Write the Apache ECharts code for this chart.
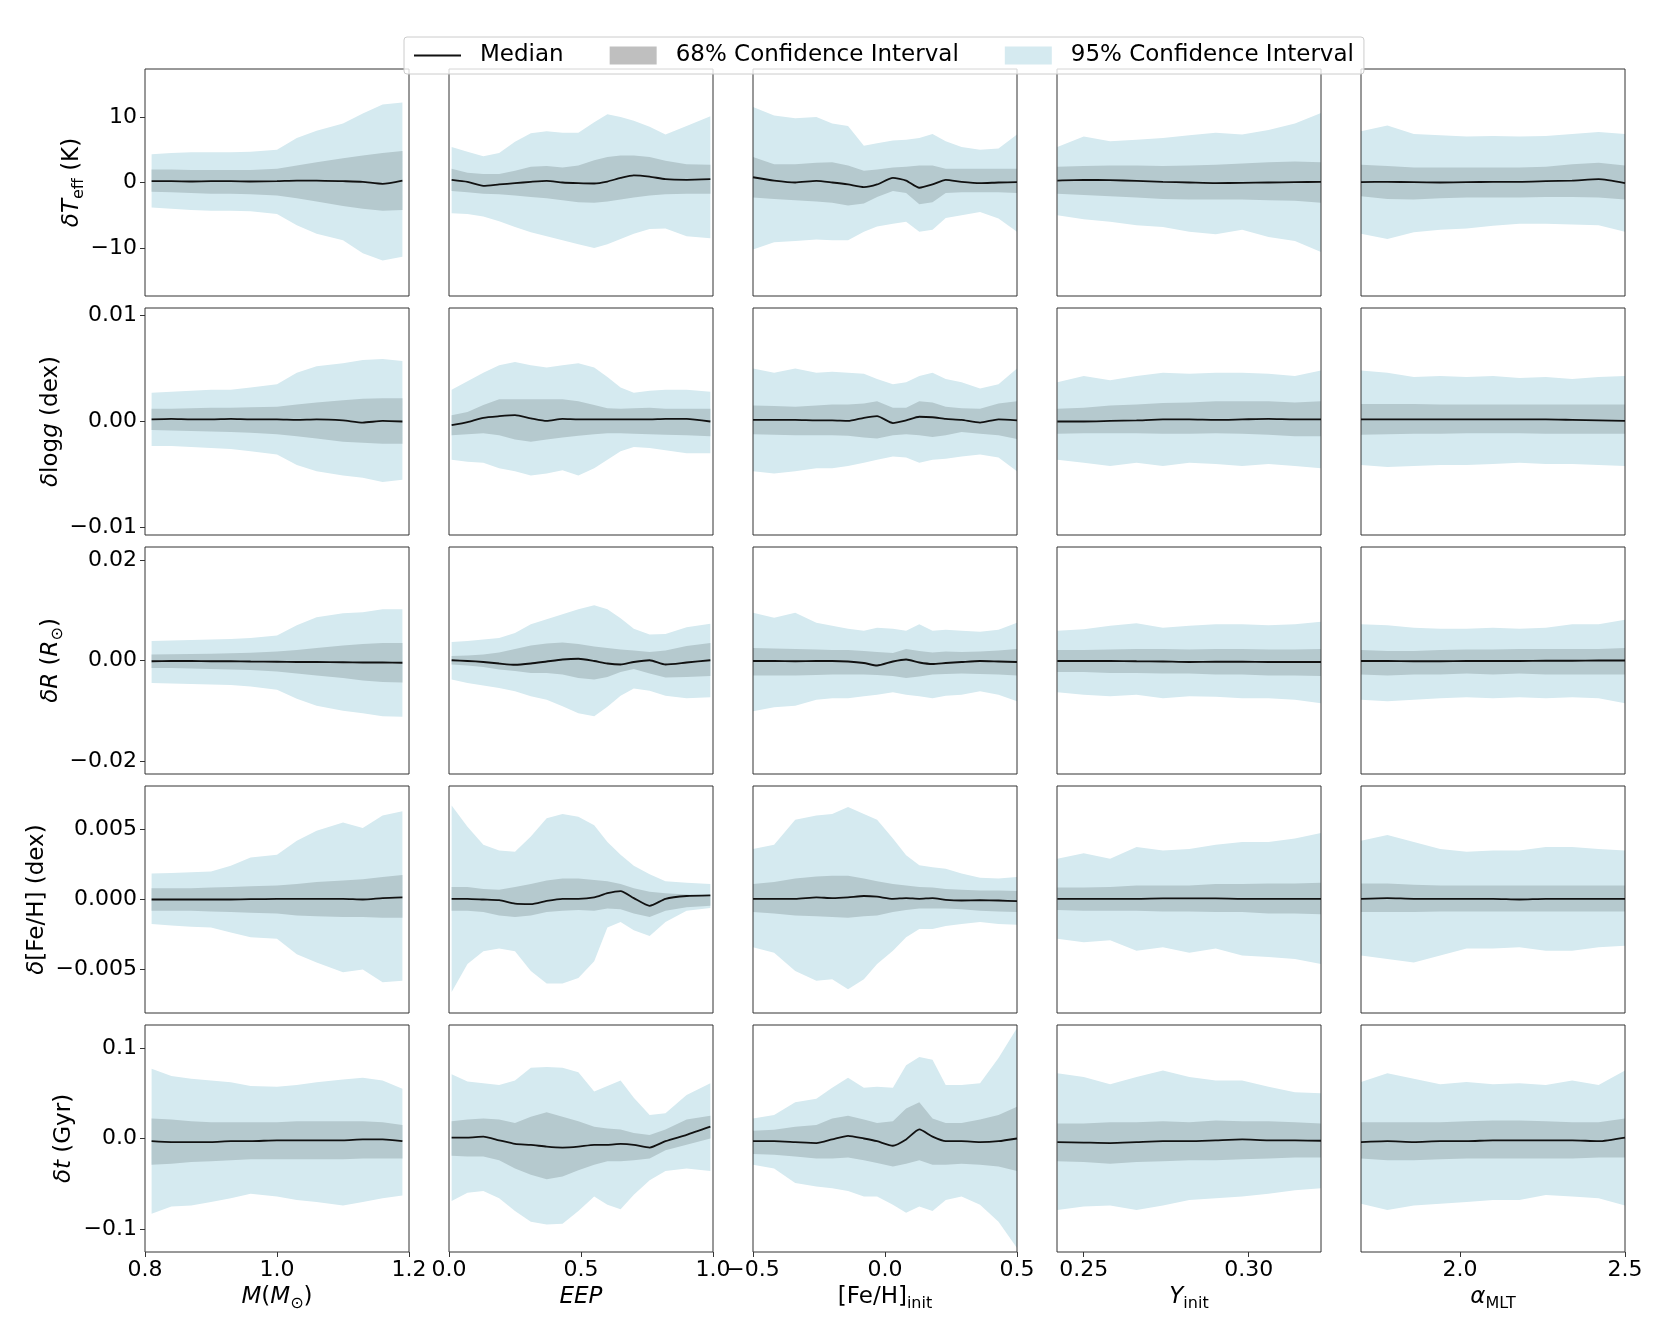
<!doctype html>
<html>
<head>
<meta charset="UTF-8">
<title>Residuals vs input parameters</title>
<script src="https://cdn.jsdelivr.net/npm/echarts@6/dist/echarts.min.js"></script>
<style>
  html, body { margin: 0; padding: 0; background: #fff; }
  #main { width: 1661px; height: 1329px; }
</style>
</head>
<body>
<div id="main"></div>
<script>
// ---- x sample positions per column ----
var xM   = [0.81, 0.84, 0.87, 0.90, 0.93, 0.96, 1.00, 1.03, 1.06, 1.10, 1.13, 1.16, 1.19];
var xEEP = [0.01, 0.07, 0.13, 0.19, 0.25, 0.31, 0.37, 0.43, 0.49, 0.55, 0.60, 0.65, 0.70, 0.76, 0.82, 0.90, 0.99];
var xFeH = [-0.5, -0.42, -0.34, -0.26, -0.2, -0.14, -0.08, -0.03, 0.03, 0.08, 0.13, 0.18, 0.23, 0.29, 0.36, 0.43, 0.5];
var xY   = [0.2420, 0.2500, 0.2580, 0.2660, 0.2740, 0.2820, 0.2900, 0.2980, 0.3060, 0.3140, 0.3219];
var xA   = [1.70, 1.78, 1.86, 1.94, 2.02, 2.10, 2.18, 2.26, 2.34, 2.42, 2.50];

// ---- row 1: delta Teff (K) ----
var tM_med = [0.2, 0.2, 0.15, 0.2, 0.2, 0.15, 0.2, 0.3, 0.3, 0.2, 0.1, -0.2, 0.3];
var tM_l68 = [-1.4, -1.5, -1.6, -1.7, -1.7, -1.8, -2.0, -2.4, -2.9, -3.6, -4.0, -4.3, -4.2];
var tM_u68 = [2.0, 2.0, 1.9, 1.9, 1.9, 1.9, 2.1, 2.6, 3.1, 3.7, 4.1, 4.5, 4.8];
var tM_l95 = [-3.8, -4.0, -4.2, -4.3, -4.3, -4.4, -4.8, -6.5, -7.8, -8.8, -10.8, -11.9, -11.3];
var tM_u95 = [4.3, 4.5, 4.6, 4.6, 4.6, 4.7, 5.0, 6.8, 7.9, 9.0, 10.5, 11.9, 12.2];

var tE_med = [0.4, 0.1, -0.5, -0.3, -0.1, 0.1, 0.25, 0.0, -0.1, -0.15, 0.15, 0.7, 1.1, 0.9, 0.5, 0.4, 0.5];
var tE_l68 = [-1.3, -1.5, -1.7, -1.8, -2.0, -2.2, -2.4, -2.7, -3.0, -3.1, -2.9, -2.6, -2.3, -2.0, -1.8, -1.7, -1.7];
var tE_u68 = [2.1, 1.5, 1.3, 1.3, 1.8, 2.4, 2.5, 2.3, 2.6, 3.4, 3.9, 4.1, 4.1, 3.9, 3.3, 2.8, 2.7];
var tE_l95 = [-4.7, -4.8, -5.2, -5.9, -6.8, -7.6, -8.2, -8.8, -9.4, -10.0, -9.4, -8.6, -7.8, -7.1, -7.0, -8.2, -8.5];
var tE_u95 = [5.4, 4.7, 4.0, 4.5, 6.2, 7.5, 7.8, 7.6, 7.6, 9.2, 10.4, 10.0, 9.4, 8.5, 7.3, 8.6, 10.1];

var tF_med = [0.8, 0.3, 0.0, 0.25, 0.0, -0.3, -0.7, -0.3, 0.7, 0.3, -0.8, -0.3, 0.4, 0.1, -0.1, 0.0, 0.05];
var tF_l68 = [-2.3, -2.5, -2.7, -2.9, -3.1, -3.5, -3.2, -2.2, -1.3, -1.6, -3.3, -3.0, -1.6, -1.5, -1.5, -1.5, -1.6];
var tF_u68 = [3.9, 2.8, 2.8, 3.0, 3.1, 2.6, 1.8, 2.0, 2.3, 2.4, 2.6, 2.6, 2.1, 2.1, 2.1, 2.1, 2.1];
var tF_l95 = [-10.2, -9.1, -8.9, -8.7, -8.8, -8.8, -7.5, -6.7, -6.3, -6.0, -7.5, -7.2, -5.4, -5.0, -4.5, -5.5, -7.5];
var tF_u95 = [11.5, 10.2, 9.8, 10.0, 9.0, 8.6, 5.6, 6.0, 6.4, 6.5, 6.8, 7.4, 6.3, 5.4, 5.0, 5.2, 7.3];

var tY_med = [0.3, 0.4, 0.35, 0.25, 0.1, 0.0, -0.1, -0.05, 0.0, 0.05, 0.1];
var tY_l68 = [-1.7, -1.9, -2.1, -2.3, -2.5, -2.6, -2.6, -2.6, -2.7, -2.8, -3.1];
var tY_u68 = [2.4, 2.5, 2.6, 2.6, 2.5, 2.6, 2.7, 2.9, 3.1, 3.2, 3.1];
var tY_l95 = [-5.0, -5.6, -6.0, -6.5, -6.8, -7.5, -7.9, -7.2, -8.3, -8.9, -10.6];
var tY_u95 = [5.4, 7.0, 6.3, 6.5, 6.8, 7.2, 7.6, 7.3, 8.0, 9.0, 10.6];

var tA_med = [0.05, 0.1, 0.05, 0.0, 0.05, 0.1, 0.1, 0.2, 0.3, 0.5, -0.1];
var tA_l68 = [-2.1, -2.5, -2.6, -2.4, -2.3, -2.3, -2.3, -2.2, -2.2, -2.3, -2.6];
var tA_u68 = [2.7, 2.5, 2.3, 2.3, 2.3, 2.3, 2.3, 2.4, 2.8, 3.0, 2.6];
var tA_l95 = [-7.8, -8.6, -7.6, -7.2, -7.0, -6.6, -6.3, -6.3, -6.4, -6.5, -7.5];
var tA_u95 = [7.8, 8.7, 7.4, 7.2, 7.0, 7.1, 7.0, 7.1, 7.4, 7.7, 7.4];

// ---- row 2: delta log g (dex) ----
var gM_med = [0.0002, 0.00025, 0.0002, 0.0002, 0.00025, 0.0002, 0.0002, 0.00015, 0.0002, 0.0001, -0.0001, 0.00005, 0.0];
var gM_l68 = [-0.0008, -0.00085, -0.0009, -0.00095, -0.0010, -0.00105, -0.0012, -0.0014, -0.0016, -0.0019, -0.0020, -0.0021, -0.0021];
var gM_u68 = [0.0012, 0.0012, 0.00125, 0.0013, 0.0013, 0.00135, 0.0014, 0.0016, 0.0018, 0.0020, 0.00215, 0.0022, 0.0022];
var gM_l95 = [-0.0023, -0.0023, -0.0024, -0.0025, -0.0026, -0.0028, -0.0031, -0.0041, -0.0047, -0.0051, -0.0053, -0.0057, -0.0055];
var gM_u95 = [0.0027, 0.0028, 0.0029, 0.0030, 0.0030, 0.0032, 0.0035, 0.0046, 0.0052, 0.0055, 0.0058, 0.0059, 0.0057];

var gE_med = [-0.00035, -0.00005, 0.00035, 0.0005, 0.0006, 0.0003, 0.00005, 0.00025, 0.0002, 0.0002, 0.0002, 0.0002, 0.0002, 0.0002, 0.00025, 0.00025, 0.0];
var gE_l68 = [-0.0013, -0.0012, -0.0011, -0.0013, -0.0017, -0.0019, -0.0017, -0.0015, -0.00135, -0.0012, -0.0011, -0.0011, -0.00115, -0.0012, -0.00125, -0.0013, -0.0014];
var gE_u68 = [0.0006, 0.0009, 0.00155, 0.0021, 0.0021, 0.0021, 0.0021, 0.0021, 0.0019, 0.00155, 0.00125, 0.0012, 0.00125, 0.0013, 0.0012, 0.0012, 0.0012];
var gE_l95 = [-0.0036, -0.0038, -0.0039, -0.0044, -0.0047, -0.0051, -0.0049, -0.0046, -0.0051, -0.0044, -0.0036, -0.0028, -0.0024, -0.0025, -0.0027, -0.0030, -0.0030];
var gE_u95 = [0.0030, 0.0038, 0.0046, 0.0053, 0.0056, 0.0053, 0.0051, 0.0053, 0.0055, 0.0051, 0.0042, 0.0032, 0.0027, 0.0029, 0.0030, 0.0030, 0.0028];

var gF_med = [0.00015, 0.00015, 0.00015, 0.0001, 0.0001, 0.00005, 0.00035, 0.0005, -0.00015, 0.0001, 0.00045, 0.0004, 0.00025, 0.00015, -0.0001, 0.0002, 0.0001];
var gF_l68 = [-0.0012, -0.00125, -0.0013, -0.0013, -0.0013, -0.00135, -0.0015, -0.0016, -0.0013, -0.0012, -0.0013, -0.00145, -0.0013, -0.0010, -0.00115, -0.0013, -0.00165];
var gF_u68 = [0.0015, 0.00145, 0.0014, 0.0015, 0.0016, 0.0016, 0.0017, 0.0019, 0.0013, 0.0013, 0.0019, 0.0018, 0.0014, 0.00125, 0.0012, 0.0017, 0.0019];
var gF_l95 = [-0.0047, -0.0049, -0.0047, -0.0044, -0.0044, -0.0042, -0.0039, -0.0036, -0.0033, -0.0034, -0.0039, -0.0036, -0.0035, -0.0033, -0.0031, -0.0034, -0.0047];
var gF_u95 = [0.0050, 0.0046, 0.0050, 0.0046, 0.0047, 0.0046, 0.0045, 0.0040, 0.0035, 0.0037, 0.0043, 0.0046, 0.0040, 0.0037, 0.0031, 0.0035, 0.0050];

var gY_med = [0.0, 0.0, 0.00005, 0.0001, 0.0002, 0.0002, 0.00015, 0.0002, 0.00025, 0.0002, 0.0002];
var gY_l68 = [-0.00115, -0.0011, -0.0011, -0.0011, -0.00115, -0.00115, -0.0011, -0.00115, -0.00125, -0.0014, -0.0014];
var gY_u68 = [0.0012, 0.0013, 0.0015, 0.0016, 0.00175, 0.0018, 0.0019, 0.0019, 0.0019, 0.0018, 0.0019];
var gY_l95 = [-0.0036, -0.0039, -0.0042, -0.0039, -0.0042, -0.0039, -0.0040, -0.0042, -0.0040, -0.0042, -0.0044];
var gY_u95 = [0.0037, 0.0043, 0.0039, 0.0043, 0.0046, 0.0045, 0.0046, 0.0046, 0.0045, 0.0043, 0.0048];

var gA_med = [0.0002, 0.0002, 0.0002, 0.0002, 0.0002, 0.0002, 0.0002, 0.0002, 0.00015, 0.0001, 0.00005];
var gA_l68 = [-0.00125, -0.0012, -0.00115, -0.00115, -0.0011, -0.0011, -0.0011, -0.00115, -0.00115, -0.00115, -0.00115];
var gA_u68 = [0.00165, 0.00165, 0.00165, 0.0016, 0.0016, 0.0016, 0.0016, 0.0016, 0.0016, 0.0016, 0.0016];
var gA_l95 = [-0.0041, -0.0043, -0.0042, -0.0041, -0.0041, -0.0040, -0.0039, -0.0040, -0.0040, -0.0041, -0.0042];
var gA_u95 = [0.0048, 0.0046, 0.0042, 0.0043, 0.0042, 0.0043, 0.0041, 0.0042, 0.0040, 0.0042, 0.0043];

// ---- row 3: delta R (Rsun) ----
var rM_med = [-0.00015, -0.0001, -0.0001, -0.00015, -0.00015, -0.0002, -0.00025, -0.0003, -0.0003, -0.00035, -0.0004, -0.0004, -0.00045];
var rM_l68 = [-0.0015, -0.0015, -0.0016, -0.0017, -0.0018, -0.0019, -0.0022, -0.0026, -0.0030, -0.0035, -0.0040, -0.0043, -0.0044];
var rM_u68 = [0.0012, 0.00125, 0.0013, 0.00135, 0.00145, 0.00155, 0.0018, 0.0021, 0.0025, 0.0030, 0.0033, 0.0035, 0.0035];
var rM_l95 = [-0.0045, -0.0046, -0.0047, -0.0048, -0.0049, -0.0052, -0.0058, -0.0076, -0.0090, -0.0100, -0.0105, -0.0111, -0.0112];
var rM_u95 = [0.0039, 0.0040, 0.0041, 0.0042, 0.0043, 0.0045, 0.0050, 0.0070, 0.0086, 0.0094, 0.0096, 0.0102, 0.0102];

var rE_med = [0.00005, -0.0001, -0.0003, -0.0006, -0.00085, -0.0006, -0.0002, 0.0002, 0.00035, -0.0001, -0.0006, -0.0008, -0.0003, 0.00005, -0.0008, -0.0004, 0.00005];
var rE_l68 = [-0.0008, -0.0010, -0.0013, -0.0018, -0.0021, -0.0025, -0.0025, -0.0028, -0.0035, -0.0038, -0.0033, -0.0023, -0.0017, -0.0026, -0.0034, -0.0033, -0.0031];
var rE_u68 = [0.0009, 0.0010, 0.0012, 0.0016, 0.0023, 0.0030, 0.0034, 0.0036, 0.0033, 0.0028, 0.0025, 0.0022, 0.0020, 0.0017, 0.0020, 0.0029, 0.0035];
var rE_l95 = [-0.0038, -0.0045, -0.0050, -0.0055, -0.0061, -0.0071, -0.0078, -0.0091, -0.0105, -0.0111, -0.0092, -0.0070, -0.0056, -0.0060, -0.0070, -0.0075, -0.0073];
var rE_u95 = [0.0037, 0.0039, 0.0042, 0.0045, 0.0055, 0.0072, 0.0082, 0.0092, 0.0102, 0.0110, 0.0102, 0.0084, 0.0063, 0.0052, 0.0053, 0.0066, 0.0073];

var rF_med = [-0.0001, -0.0001, -0.00015, -0.0001, -0.0001, -0.0002, -0.0005, -0.0010, -0.0002, 0.0002, -0.0004, -0.0007, -0.0005, -0.0003, -0.0001, -0.0002, -0.0003];
var rF_l68 = [-0.0030, -0.0030, -0.0030, -0.0029, -0.0028, -0.0028, -0.0028, -0.0029, -0.0031, -0.0035, -0.0032, -0.0028, -0.0027, -0.0026, -0.0027, -0.0028, -0.0030];
var rF_u68 = [0.0025, 0.0024, 0.0023, 0.0022, 0.0021, 0.0021, 0.0019, 0.0017, 0.0015, 0.0023, 0.0019, 0.0016, 0.0018, 0.0017, 0.0018, 0.0020, 0.0023];
var rF_l95 = [-0.0101, -0.0093, -0.0090, -0.0078, -0.0075, -0.0075, -0.0071, -0.0068, -0.0063, -0.0068, -0.0071, -0.0075, -0.0070, -0.0068, -0.0061, -0.0068, -0.0081];
var rF_u95 = [0.0095, 0.0085, 0.0095, 0.0075, 0.0069, 0.0063, 0.0059, 0.0065, 0.0063, 0.0059, 0.0072, 0.0059, 0.0061, 0.0059, 0.0057, 0.0061, 0.0075];

var rY_med = [-0.0001, -0.0001, -0.0001, -0.00015, -0.0002, -0.0003, -0.00025, -0.00025, -0.0003, -0.0003, -0.0003];
var rY_l68 = [-0.0023, -0.0023, -0.0025, -0.0025, -0.0026, -0.0026, -0.0028, -0.0028, -0.0030, -0.0030, -0.0031];
var rY_u68 = [0.0021, 0.0021, 0.0022, 0.0023, 0.0023, 0.0022, 0.0023, 0.0023, 0.0022, 0.0022, 0.0023];
var rY_l95 = [-0.0063, -0.0068, -0.0071, -0.0068, -0.0075, -0.0071, -0.0072, -0.0075, -0.0075, -0.0078, -0.0085];
var rY_u95 = [0.0059, 0.0062, 0.0069, 0.0074, 0.0065, 0.0069, 0.0072, 0.0072, 0.0070, 0.0072, 0.0077];

var rA_med = [-0.0001, -0.0001, -0.00015, -0.00015, -0.0001, -0.0001, -0.0001, -0.00005, -0.00005, 0.0, 0.0];
var rA_l68 = [-0.0028, -0.0030, -0.0028, -0.0028, -0.0026, -0.0028, -0.0026, -0.0028, -0.0028, -0.0028, -0.0028];
var rA_u68 = [0.0021, 0.0019, 0.0019, 0.0021, 0.0022, 0.0022, 0.0023, 0.0023, 0.0023, 0.0023, 0.0025];
var rA_l95 = [-0.0078, -0.0081, -0.0078, -0.0075, -0.0073, -0.0075, -0.0073, -0.0075, -0.0073, -0.0075, -0.0085];
var rA_u95 = [0.0072, 0.0070, 0.0065, 0.0063, 0.0063, 0.0065, 0.0063, 0.0065, 0.0072, 0.0072, 0.0081];

// ---- row 4: delta [Fe/H] (dex) ----
var fM_med = [0.0, 0.0, 0.0, 0.0, 0.0, 0.00002, 0.00005, 0.00005, 0.00005, 0.00005, 0.0, 0.0001, 0.00015];
var fM_l68 = [-0.0008, -0.0008, -0.0008, -0.00085, -0.0009, -0.00095, -0.0010, -0.00115, -0.0012, -0.00125, -0.00125, -0.0013, -0.0013];
var fM_u68 = [0.0008, 0.0008, 0.0008, 0.00085, 0.0009, 0.00095, 0.0010, 0.0011, 0.00125, 0.00135, 0.00145, 0.0016, 0.00175];
var fM_l95 = [-0.00175, -0.00185, -0.00195, -0.0020, -0.00235, -0.0027, -0.0028, -0.0039, -0.0045, -0.0052, -0.0050, -0.0059, -0.0058];
var fM_u95 = [0.00185, 0.0019, 0.00195, 0.0020, 0.0024, 0.0030, 0.0032, 0.0042, 0.0049, 0.0055, 0.0051, 0.0060, 0.0063];

var fE_med = [0.00005, 0.00005, 0.0, -0.00005, -0.0003, -0.00033, -0.0001, 0.00005, 0.00005, 0.00015, 0.00045, 0.0006, 0.0001, -0.00045, 0.00005, 0.00025, 0.0003];
var fE_l68 = [-0.0008, -0.0008, -0.0009, -0.00115, -0.00125, -0.00115, -0.0009, -0.0008, -0.00075, -0.0008, -0.00065, -0.0007, -0.0010, -0.00125, -0.0008, -0.00055, -0.00045];
var fE_u68 = [0.0009, 0.0009, 0.00075, 0.0007, 0.0009, 0.0011, 0.00135, 0.0015, 0.0015, 0.0014, 0.0013, 0.0011, 0.0008, 0.00055, 0.00045, 0.00035, 0.0003];
var fE_l95 = [-0.0066, -0.0046, -0.0037, -0.0035, -0.0037, -0.0051, -0.0060, -0.0060, -0.0056, -0.0044, -0.0020, -0.0016, -0.0022, -0.0026, -0.0016, -0.0008, -0.0006];
var fE_u95 = [0.0067, 0.0052, 0.0039, 0.0035, 0.0034, 0.0045, 0.0058, 0.0061, 0.0059, 0.0053, 0.0041, 0.0032, 0.0024, 0.0018, 0.0013, 0.0012, 0.0011];

var fF_med = [0.00005, 0.00005, 0.00005, 0.00015, 0.0001, 0.00015, 0.00025, 0.0002, 0.00005, 0.0001, 0.00005, 0.0001, -0.00002, -0.00007, -0.00005, -0.00007, -0.00012];
var fF_l68 = [-0.0009, -0.0010, -0.00115, -0.0012, -0.00125, -0.0013, -0.0012, -0.00115, -0.0009, -0.00075, -0.00065, -0.00065, -0.00065, -0.0007, -0.0008, -0.00085, -0.0009];
var fF_u68 = [0.0011, 0.00125, 0.0015, 0.00165, 0.0017, 0.0017, 0.0015, 0.0013, 0.0011, 0.0010, 0.0009, 0.00085, 0.00075, 0.0007, 0.00065, 0.00065, 0.0006];
var fF_l95 = [-0.0034, -0.0038, -0.0051, -0.0058, -0.0057, -0.0064, -0.0057, -0.0046, -0.00365, -0.0027, -0.0021, -0.0021, -0.0019, -0.00175, -0.0016, -0.00175, -0.0018];
var fF_u95 = [0.0036, 0.0039, 0.0057, 0.0060, 0.0061, 0.0066, 0.0061, 0.0057, 0.00435, 0.00315, 0.00245, 0.0023, 0.0022, 0.00185, 0.00155, 0.0015, 0.0016];

var fY_med = [0.00005, 0.00005, 0.00005, 0.00005, 0.00008, 0.00008, 0.00008, 0.00005, 0.00005, 0.00005, 0.00005];
var fY_l68 = [-0.00075, -0.0008, -0.0008, -0.0008, -0.00085, -0.00085, -0.0009, -0.0009, -0.0010, -0.0010, -0.00105];
var fY_u68 = [0.00085, 0.00085, 0.0009, 0.0010, 0.0010, 0.0010, 0.0011, 0.0011, 0.00115, 0.00115, 0.0012];
var fY_l95 = [-0.0028, -0.00305, -0.0029, -0.00365, -0.0034, -0.0038, -0.0035, -0.0040, -0.0041, -0.00425, -0.0046];
var fY_u95 = [0.0029, 0.0033, 0.0029, 0.00375, 0.0035, 0.0036, 0.0039, 0.0041, 0.0041, 0.00435, 0.00475];

var fA_med = [0.00005, 0.0001, 0.00005, 0.00005, 0.00005, 0.00005, 0.0, 0.00005, 0.00005, 0.00005, 0.00005];
var fA_l68 = [-0.0009, -0.0009, -0.0009, -0.00085, -0.00085, -0.00085, -0.00085, -0.00085, -0.00085, -0.00085, -0.00085];
var fA_u68 = [0.00115, 0.00115, 0.00105, 0.0010, 0.0010, 0.0010, 0.0010, 0.0010, 0.0010, 0.0010, 0.0010];
var fA_l95 = [-0.0040, -0.00425, -0.0045, -0.0040, -0.0035, -0.0035, -0.0034, -0.00365, -0.00365, -0.0034, -0.0033];
var fA_u95 = [0.0042, 0.0046, 0.0041, 0.0036, 0.0034, 0.0035, 0.0035, 0.00375, 0.00375, 0.0036, 0.0035];

// ---- row 5: delta t (Gyr) ----
var aM_med = [-0.003, -0.004, -0.004, -0.004, -0.003, -0.003, -0.002, -0.002, -0.002, -0.002, -0.001, -0.001, -0.003];
var aM_l68 = [-0.029, -0.028, -0.026, -0.025, -0.024, -0.023, -0.023, -0.023, -0.023, -0.023, -0.022, -0.022, -0.022];
var aM_u68 = [0.022, 0.021, 0.019, 0.018, 0.018, 0.018, 0.018, 0.019, 0.019, 0.019, 0.019, 0.018, 0.015];
var aM_l95 = [-0.083, -0.075, -0.074, -0.070, -0.066, -0.061, -0.064, -0.068, -0.070, -0.074, -0.070, -0.066, -0.063];
var aM_u95 = [0.077, 0.069, 0.066, 0.064, 0.062, 0.058, 0.057, 0.059, 0.062, 0.065, 0.067, 0.064, 0.055];

var aE_med = [0.001, 0.001, 0.002, -0.002, -0.006, -0.007, -0.009, -0.010, -0.009, -0.007, -0.007, -0.006, -0.007, -0.010, -0.003, 0.004, 0.013];
var aE_l68 = [-0.019, -0.020, -0.020, -0.024, -0.033, -0.040, -0.045, -0.042, -0.035, -0.029, -0.025, -0.025, -0.024, -0.022, -0.013, -0.007, 0.0];
var aE_u68 = [0.019, 0.021, 0.022, 0.021, 0.017, 0.024, 0.029, 0.024, 0.019, 0.013, 0.011, 0.010, 0.006, 0.004, 0.010, 0.021, 0.025];
var aE_l95 = [-0.069, -0.060, -0.058, -0.066, -0.080, -0.092, -0.095, -0.094, -0.080, -0.064, -0.073, -0.078, -0.062, -0.046, -0.036, -0.033, -0.036];
var aE_u95 = [0.071, 0.063, 0.061, 0.059, 0.064, 0.078, 0.079, 0.078, 0.073, 0.052, 0.058, 0.064, 0.045, 0.026, 0.028, 0.048, 0.061];

var aF_med = [-0.003, -0.003, -0.004, -0.005, -0.001, 0.003, 0.0, -0.003, -0.008, -0.001, 0.010, 0.002, -0.003, -0.003, -0.004, -0.003, 0.0];
var aF_l68 = [-0.017, -0.018, -0.020, -0.022, -0.022, -0.021, -0.024, -0.027, -0.031, -0.028, -0.024, -0.029, -0.029, -0.028, -0.029, -0.031, -0.036];
var aF_u68 = [0.0085, 0.0096, 0.013, 0.015, 0.022, 0.025, 0.021, 0.017, 0.019, 0.033, 0.040, 0.022, 0.017, 0.017, 0.021, 0.026, 0.035];
var aF_l95 = [-0.029, -0.033, -0.049, -0.053, -0.055, -0.058, -0.064, -0.064, -0.073, -0.082, -0.075, -0.080, -0.068, -0.064, -0.073, -0.092, -0.121];
var aF_u95 = [0.022, 0.026, 0.040, 0.044, 0.056, 0.067, 0.056, 0.057, 0.056, 0.081, 0.090, 0.087, 0.059, 0.059, 0.061, 0.089, 0.122];

var aY_med = [-0.004, -0.0045, -0.005, -0.004, -0.003, -0.003, -0.002, -0.001, -0.002, -0.002, -0.0025];
var aY_l68 = [-0.025, -0.026, -0.028, -0.026, -0.025, -0.024, -0.024, -0.023, -0.022, -0.021, -0.021];
var aY_u68 = [0.0165, 0.0165, 0.018, 0.018, 0.019, 0.018, 0.020, 0.019, 0.019, 0.018, 0.0165];
var aY_l95 = [-0.079, -0.075, -0.074, -0.079, -0.074, -0.068, -0.066, -0.064, -0.061, -0.057, -0.055];
var aY_u95 = [0.072, 0.068, 0.060, 0.068, 0.075, 0.068, 0.064, 0.064, 0.057, 0.051, 0.050];

var aA_med = [-0.004, -0.003, -0.004, -0.003, -0.003, -0.002, -0.002, -0.002, -0.002, -0.003, 0.001];
var aA_l68 = [-0.022, -0.024, -0.024, -0.023, -0.022, -0.022, -0.022, -0.022, -0.022, -0.021, -0.021];
var aA_u68 = [0.018, 0.018, 0.018, 0.018, 0.019, 0.020, 0.020, 0.019, 0.018, 0.018, 0.022];
var aA_l95 = [-0.072, -0.079, -0.074, -0.072, -0.070, -0.068, -0.068, -0.0625, -0.064, -0.066, -0.074];
var aA_u95 = [0.0625, 0.072, 0.066, 0.060, 0.0625, 0.060, 0.061, 0.059, 0.064, 0.059, 0.075];

// ---- axes: ranges, ticks, titles ----
var xRange  = [[0.8, 1.2], [0, 1], [-0.5, 0.5], [0.2419, 0.3219], [1.7, 2.5]];
var xTicks  = [[0.8, 1.0, 1.2], [0, 0.5, 1.0], [-0.5, 0, 0.5], [0.25, 0.30], [2.0, 2.5]];
var xDigits = [1, 1, 1, 2, 1];
var xNames  = ['{i|M}({i|M}{s|⊙})', '{i|EEP}', '[Fe/H]{s|init}', '{i|Y}{s|init}', '{i|α}{s|MLT}'];

var yRange  = [[-17.3, 17.3], [-0.0107, 0.0107], [-0.0226, 0.0226], [-0.0081, 0.0081], [-0.1253, 0.1253]];
var yTicks  = [[-10, 0, 10], [-0.01, 0, 0.01], [-0.02, 0, 0.02], [-0.005, 0, 0.005], [-0.1, 0, 0.1]];
var yDigits = [0, 2, 2, 3, 1];
var yNames  = ['{i|δT}{s|eff} (K)', '{i|δ}log{i|g} (dex)', '{i|δR} ({i|R}{s|⊙})', '{i|δ}[Fe/H] (dex)', '{i|δt} (Gyr)'];
var yNameGap = [58, 78, 78, 92, 66];

var panels = [
  [xM, tM_med, tM_l68, tM_u68, tM_l95, tM_u95], [xEEP, tE_med, tE_l68, tE_u68, tE_l95, tE_u95],
  [xFeH, tF_med, tF_l68, tF_u68, tF_l95, tF_u95], [xY, tY_med, tY_l68, tY_u68, tY_l95, tY_u95],
  [xA, tA_med, tA_l68, tA_u68, tA_l95, tA_u95],
  [xM, gM_med, gM_l68, gM_u68, gM_l95, gM_u95], [xEEP, gE_med, gE_l68, gE_u68, gE_l95, gE_u95],
  [xFeH, gF_med, gF_l68, gF_u68, gF_l95, gF_u95], [xY, gY_med, gY_l68, gY_u68, gY_l95, gY_u95],
  [xA, gA_med, gA_l68, gA_u68, gA_l95, gA_u95],
  [xM, rM_med, rM_l68, rM_u68, rM_l95, rM_u95], [xEEP, rE_med, rE_l68, rE_u68, rE_l95, rE_u95],
  [xFeH, rF_med, rF_l68, rF_u68, rF_l95, rF_u95], [xY, rY_med, rY_l68, rY_u68, rY_l95, rY_u95],
  [xA, rA_med, rA_l68, rA_u68, rA_l95, rA_u95],
  [xM, fM_med, fM_l68, fM_u68, fM_l95, fM_u95], [xEEP, fE_med, fE_l68, fE_u68, fE_l95, fE_u95],
  [xFeH, fF_med, fF_l68, fF_u68, fF_l95, fF_u95], [xY, fY_med, fY_l68, fY_u68, fY_l95, fY_u95],
  [xA, fA_med, fA_l68, fA_u68, fA_l95, fA_u95],
  [xM, aM_med, aM_l68, aM_u68, aM_l95, aM_u95], [xEEP, aE_med, aE_l68, aE_u68, aE_l95, aE_u95],
  [xFeH, aF_med, aF_l68, aF_u68, aF_l95, aF_u95], [xY, aY_med, aY_l68, aY_u68, aY_l95, aY_u95],
  [xA, aA_med, aA_l68, aA_u68, aA_l95, aA_u95]
];

var FONT = 'DejaVu Sans';
var BLUE = '#d5eaf0';
var GREY = '#b5c9ce';
var colLeft = [145, 449, 753, 1057, 1361];
var rowTop = [69, 308, 547, 786, 1025];
var panelW = 264, panelH = 227;

var rich = {
  i: { fontFamily: FONT, fontSize: 23, fontStyle: 'italic', lineHeight: 30, color: '#000' },
  s: { fontFamily: FONT, fontSize: 16, lineHeight: 16, verticalAlign: 'bottom', color: '#000' }
};

function fmt(d) {
  return function (v) { return Number(v).toFixed(d).replace('-', '\u2212'); };
}

// filled band between lo and hi, drawn as one polygon through the axis scales
function bandSeries(i, xs, lo, hi, name, color) {
  return {
    type: 'custom', name: name, xAxisIndex: i, yAxisIndex: i, silent: true,
    animation: false, itemStyle: { color: color },
    encode: { x: 0, y: [1, 2] },
    data: xs.map(function (x, k) { return [x, lo[k], hi[k]]; }),
    renderItem: function (params, api) {
      if (params.dataIndex !== 0) return null;
      var pts = [], k;
      for (k = 0; k < xs.length; k++) pts.push(api.coord([xs[k], hi[k]]));
      for (k = xs.length - 1; k >= 0; k--) pts.push(api.coord([xs[k], lo[k]]));
      return { type: 'polygon', shape: { points: pts }, style: { fill: color } };
    }
  };
}

var grids = [], xAxes = [], yAxes = [], series = [];

for (var r = 0; r < 5; r++) {
  for (var c = 0; c < 5; c++) {
    var i = r * 5 + c;
    var p = panels[i];
    var xs = p[0];
    var bottom = (r === 4), first = (c === 0);

    grids.push({
      left: colLeft[c], top: rowTop[r], width: panelW, height: panelH,
      show: true, z: 3, backgroundColor: 'transparent',
      borderColor: '#333', borderWidth: 1
    });

    xAxes.push({
      gridIndex: i, type: 'value', position: 'bottom', min: xRange[c][0], max: xRange[c][1], z: 3,
      axisLine: { show: false, onZero: false }, splitLine: { show: false },
      axisTick: { show: bottom, length: 5, lineStyle: { color: '#333' }, customValues: xTicks[c] },
      axisLabel: {
        show: bottom, customValues: xTicks[c], margin: 7,
        fontFamily: FONT, fontSize: 22, color: '#000', formatter: fmt(xDigits[c])
      },
      name: bottom ? xNames[c] : '', nameLocation: 'middle', nameGap: 30,
      nameTextStyle: { fontFamily: FONT, fontSize: 23, lineHeight: 30, color: '#000', rich: rich }
    });

    yAxes.push({
      gridIndex: i, type: 'value', position: 'left', min: yRange[r][0], max: yRange[r][1], z: 3,
      axisLine: { show: false, onZero: false }, splitLine: { show: false },
      axisTick: { show: first, length: 5, lineStyle: { color: '#333' }, customValues: yTicks[r] },
      axisLabel: {
        show: first, customValues: yTicks[r], margin: 8,
        fontFamily: FONT, fontSize: 22, color: '#000', formatter: fmt(yDigits[r])
      },
      name: first ? yNames[r] : '', nameLocation: 'middle', nameRotate: 90, nameGap: yNameGap[r],
      nameTextStyle: { fontFamily: FONT, fontSize: 23, lineHeight: 30, color: '#000', rich: rich }
    });

    series.push(bandSeries(i, xs, p[4], p[5], '95% Confidence Interval', BLUE));
    series.push(bandSeries(i, xs, p[2], p[3], '68% Confidence Interval', GREY));
    series.push({
      type: 'line', name: 'Median', xAxisIndex: i, yAxisIndex: i, silent: true, animation: false,
      symbol: 'none', smooth: 0.2,
      data: xs.map(function (x, k) { return [x, p[1][k]]; }),
      lineStyle: { color: '#111', width: 1.8 }, itemStyle: { color: '#111' }
    });
  }
}

var chart = echarts.init(document.getElementById('main'), null, { renderer: 'canvas' });
chart.setOption({
  backgroundColor: '#fff',
  animation: false,
  legend: {
    left: 404, top: 37, z: 10,
    padding: [7, 10, 7, 10],
    itemWidth: 47, itemHeight: 18, itemGap: 46,
    backgroundColor: 'rgba(255,255,255,0.8)',
    borderColor: '#cccccc', borderWidth: 1, borderRadius: 3,
    selectedMode: false,
    textStyle: { fontFamily: FONT, fontSize: 23, color: '#000', padding: [0, 0, 0, 14] },
    data: [
      { name: 'Median',
        icon: 'path://M0,0 L0.01,0 L0.01,0.01 Z M0,8 L47,8 L47,10 L0,10 Z M46.99,17.99 L47,17.99 L47,18 Z',
        itemStyle: { color: '#111', borderWidth: 0, opacity: 1 } },
      { name: '68% Confidence Interval', icon: 'rect', itemStyle: { color: '#bfbfbf', borderWidth: 0, opacity: 1 } },
      { name: '95% Confidence Interval', icon: 'rect', itemStyle: { color: BLUE, borderWidth: 0, opacity: 1 } }
    ]
  },
  grid: grids,
  xAxis: xAxes,
  yAxis: yAxes,
  series: series
});
</script>
</body>
</html>
